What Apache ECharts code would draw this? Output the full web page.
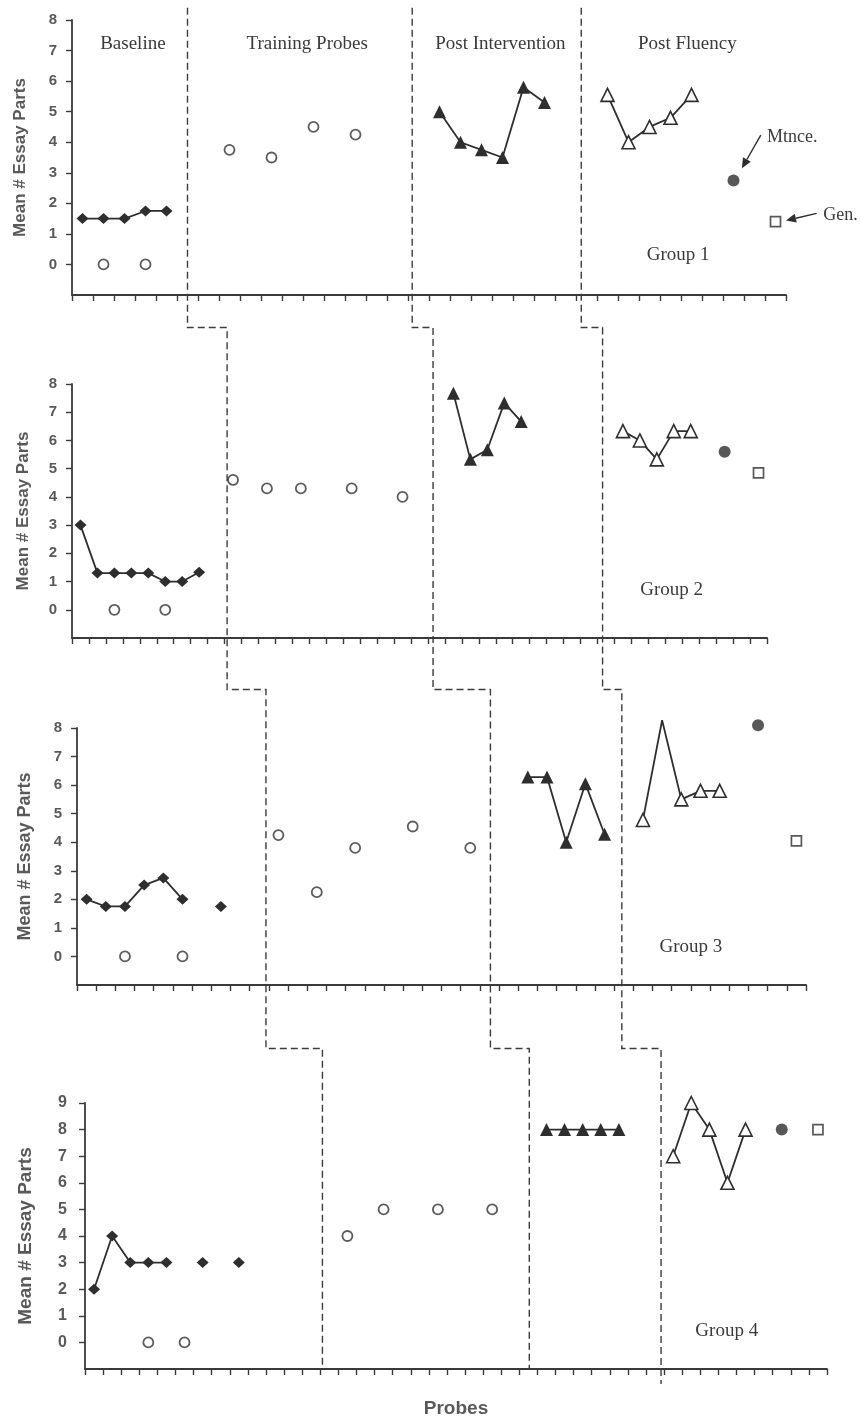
<!DOCTYPE html>
<html><head><meta charset="utf-8">
<script src="https://cdn.jsdelivr.net/npm/echarts@6/dist/echarts.min.js"></script>
<style>html,body{margin:0;padding:0;background:#fff}#c{width:861px;height:1423px}</style>
</head><body><div id="c"></div>
<script>
// ---------------- DATA ----------------
const phaseNames = ['Baseline', 'Training Probes', 'Post Intervention', 'Post Fluency'];
const groupNames = ['Group 1', 'Group 2', 'Group 3', 'Group 4'];
const yTitle = 'Mean # Essay Parts';
const xTitle = 'Probes';
const sessionCounts = [34, 41, 38, 41];
const yMax = [8, 8, 8, 9];

// Group 1
const g1Baseline = [1.5, 1.5, 1.5, 1.75, 1.75];
const g1ProbeIdx = [1, 3, 7, 9, 11, 13];
const g1ProbeVal = [0, 0, 3.75, 3.5, 4.5, 4.25];
const g1InterStart = 17;
const g1Inter = [5.0, 4.0, 3.75, 3.5, 5.8, 5.3];
const g1FluStart = 25;
const g1Flu = [5.55, 4.0, 4.5, 4.8, 5.55];
const g1Mtnce = [31, 2.75];
const g1Gen = [33, 1.4];
const g1Phase = [5.0, 15.7, 23.75];

// Group 2
const g2Baseline = [3, 1.3, 1.3, 1.3, 1.3, 1.0, 1.0, 1.33];
const g2ProbeIdx = [2, 5, 9, 11, 13, 16, 19];
const g2ProbeVal = [0, 0, 4.6, 4.3, 4.3, 4.3, 4.0];
const g2InterStart = 22;
const g2Inter = [7.67, 5.33, 5.67, 7.33, 6.67];
const g2FluStart = 32;
const g2Flu = [6.33, 6.0, 5.33, 6.33, 6.33];
const g2Mtnce = [38, 5.6];
const g2Gen = [40, 4.85];
const g2Phase = [8.65, 20.8, 30.8];

// Group 3
const g3Baseline = [2, 1.75, 1.75, 2.5, 2.75, 2, null, 1.75];
const g3ProbeIdx = [2, 5, 10, 12, 14, 17, 20];
const g3ProbeVal = [0, 0, 4.25, 2.25, 3.8, 4.55, 3.8];
const g3InterStart = 23;
const g3Inter = [6.28, 6.28, 4.0, 6.05, 4.28];
const g3FluStart = 29;
const g3Flu = [4.78, 8.27, 5.5, 5.8, 5.8];
const g3FluNoMarker = [1];
const g3Mtnce = [35, 8.1];
const g3Gen = [37, 4.05];
const g3Phase = [9.35, 21.05, 27.9];

// Group 4
const g4Baseline = [2, 4, 3, 3, 3, null, 3, null, 3];
const g4ProbeIdx = [3, 5, 14, 16, 19, 22];
const g4ProbeVal = [0, 0, 4, 5, 5, 5];
const g4InterStart = 25;
const g4Inter = [8, 8, 8, 8, 8];
const g4FluStart = 32;
const g4Flu = [7, 9, 8, 6, 8];
const g4Mtnce = [38, 8];
const g4Gen = [40, 8];
const g4Phase = [12.62, 24.05, 31.33];

// --------------- BUILD ---------------
const groups = [
  {baseline: g1Baseline, probeIdx: g1ProbeIdx, probeVal: g1ProbeVal, interStart: g1InterStart, inter: g1Inter, fluStart: g1FluStart, flu: g1Flu, fluNoMarker: [], mtnce: g1Mtnce, gen: g1Gen, phase: g1Phase},
  {baseline: g2Baseline, probeIdx: g2ProbeIdx, probeVal: g2ProbeVal, interStart: g2InterStart, inter: g2Inter, fluStart: g2FluStart, flu: g2Flu, fluNoMarker: [], mtnce: g2Mtnce, gen: g2Gen, phase: g2Phase},
  {baseline: g3Baseline, probeIdx: g3ProbeIdx, probeVal: g3ProbeVal, interStart: g3InterStart, inter: g3Inter, fluStart: g3FluStart, flu: g3Flu, fluNoMarker: g3FluNoMarker, mtnce: g3Mtnce, gen: g3Gen, phase: g3Phase},
  {baseline: g4Baseline, probeIdx: g4ProbeIdx, probeVal: g4ProbeVal, interStart: g4InterStart, inter: g4Inter, fluStart: g4FluStart, flu: g4Flu, fluNoMarker: [], mtnce: g4Mtnce, gen: g4Gen, phase: g4Phase}
];

const grids = [
  {left: 72, top: 20, width: 714, height: 275},
  {left: 72, top: 384, width: 695, height: 254},
  {left: 77, top: 728, width: 729, height: 257},
  {left: 85, top: 1103, width: 742, height: 266}
];
const tickFont = [15, 15, 15, 16];
const titleFont = [17, 17, 18, 19];
const titleGap = [43, 40, 43, 50];
const labelMargin = [15, 15, 15, 18];

const AX = '#3a3a3a', INK = '#2e2e2e', GREY = '#595959';
const SANS = '"Liberation Sans", Arial, sans-serif';
const SERIF = '"Liberation Serif", "Times New Roman", serif';

const xAxes = [], yAxes = [], series = [];
groups.forEach((d, g) => {
  const cats = Array.from({length: sessionCounts[g]}, (_, i) => String(i + 1));
  const xa = {
    type: 'category', gridIndex: g, data: cats, boundaryGap: true,
    axisLine: {show: true, onZero: false, lineStyle: {color: AX, width: 1.8}},
    axisTick: {show: true, interval: 0, length: 6, lineStyle: {color: AX, width: 1.4}},
    axisLabel: {show: false}, splitLine: {show: false}
  };
  if (g === 3) {
    xa.name = xTitle; xa.nameLocation = 'middle'; xa.nameGap = 30;
    xa.nameTextStyle = {fontFamily: SANS, fontWeight: 'bold', fontSize: 19, color: GREY};
  }
  xAxes.push(xa);
  const vals = Array.from({length: yMax[g] + 1}, (_, i) => i);
  yAxes.push({
    type: 'value', gridIndex: g, min: -1, max: yMax[g], interval: 1,
    axisLine: {show: true, lineStyle: {color: AX, width: 1.8}},
    axisTick: {show: true, length: 6, customValues: vals, lineStyle: {color: AX, width: 1.4}},
    axisLabel: {customValues: vals, formatter: v => (v < 0 ? '' : String(v)), fontFamily: SANS, fontWeight: 'bold', fontSize: tickFont[g], color: GREY, margin: labelMargin[g]},
    splitLine: {show: false},
    name: yTitle, nameLocation: 'middle', nameRotate: 90, nameGap: titleGap[g],
    nameTextStyle: {fontFamily: SANS, fontWeight: 'bold', fontSize: titleFont[g], color: GREY}
  });
  const common = {xAxisIndex: g, yAxisIndex: g, animation: false, silent: true, clip: false};
  series.push(Object.assign({
    type: 'line', data: d.baseline.map((v, i) => [i, v === null ? '-' : v]),
    symbol: 'diamond', symbolSize: [12, 11], showSymbol: true, showAllSymbol: true, connectNulls: false,
    itemStyle: {color: INK}, lineStyle: {color: INK, width: 1.8}, z: 3
  }, common));
  series.push(Object.assign({
    type: 'scatter', data: d.probeIdx.map((x, i) => [x, d.probeVal[i]]),
    symbol: 'circle', symbolSize: 10,
    itemStyle: {color: '#fff', borderColor: '#333', borderWidth: 1.8}, z: 3
  }, common));
  series.push(Object.assign({
    type: 'line', data: d.inter.map((v, i) => [d.interStart + i, v]),
    symbol: 'triangle', symbolSize: 13, showAllSymbol: true,
    itemStyle: {color: INK}, lineStyle: {color: INK, width: 1.8}, z: 3
  }, common));
  series.push(Object.assign({
    type: 'line', data: d.flu.map((v, i) => d.fluNoMarker.includes(i) ? {value: [d.fluStart + i, v], symbol: 'none'} : [d.fluStart + i, v]),
    symbol: 'triangle', symbolSize: 13, showAllSymbol: true,
    itemStyle: {color: '#fff', borderColor: INK, borderWidth: 1.6}, lineStyle: {color: INK, width: 1.8}, z: 3
  }, common));
  series.push(Object.assign({
    type: 'scatter', data: [d.mtnce], symbol: 'circle', symbolSize: 12,
    itemStyle: {color: INK}, z: 3
  }, common));
  series.push(Object.assign({
    type: 'scatter', data: [d.gen], symbol: 'rect', symbolSize: 10,
    itemStyle: {color: '#fff', borderColor: INK, borderWidth: 1.7}, z: 3
  }, common));
});

const chart = echarts.init(document.getElementById('c'), null, {renderer: 'canvas'});
chart.setOption({
  animation: false,
  backgroundColor: '#fff',
  grid: grids.map(r => Object.assign({containLabel: false}, r)),
  xAxis: xAxes, yAxis: yAxes, series: series
});

// ---- annotations placed through the axes' own scales ----
function px(g, x, y) {
  const p0 = chart.convertToPixel({xAxisIndex: g}, 0);
  const p1 = chart.convertToPixel({xAxisIndex: g}, 1);
  return [p0 + (p1 - p0) * x, chart.convertToPixel({yAxisIndex: g}, y)];
}
const phaseTop = 8.4;                 // panel 1 value where phase lines begin
const stepVals = [10, 9.35, 11.05];   // level (in lower panel units) of the steps between panels
const phaseLabelPos = [[2.4, 7.2], [10.7, 7.2], [19.9, 7.2], [28.8, 7.2]];
const groupLabelPos = [[28.36, 0.3], [34.87, 0.71], [31.5, 0.34], [34.96, 0.41]];
const mtnceLabel = [33.8, 4.16], genLabel = [36.1, 1.6];
const mtnceArrow = [[32.3, 4.23], [31.4, 3.15]];
const genArrow = [[34.96, 1.67], [33.5, 1.44]];

const gfx = [];
for (let k = 0; k < 3; k++) {
  const pts = [px(0, groups[0].phase[k], phaseTop)];
  for (let g = 1; g < 4; g++) {
    const sy = px(g, 0, stepVals[g - 1])[1];
    pts.push([px(g - 1, groups[g - 1].phase[k], 0)[0], sy]);
    pts.push([px(g, groups[g].phase[k], 0)[0], sy]);
  }
  const bottom = px(3, 0, -1)[1] + (k === 2 ? 15 : 0);
  pts.push([px(3, groups[3].phase[k], 0)[0], bottom]);
  gfx.push({type: 'polyline', silent: true, z: 1, shape: {points: pts},
    style: {stroke: '#3c3c3c', lineWidth: 1.4, lineDash: [7, 4], fill: null}});
}
phaseNames.forEach((t, i) => {
  const p = px(0, phaseLabelPos[i][0], phaseLabelPos[i][1]);
  gfx.push({type: 'text', x: p[0], y: p[1], silent: true,
    style: {text: t, fontFamily: SERIF, fontSize: 19, fill: '#3a3a3a', align: 'center', verticalAlign: 'middle'}});
});
groupNames.forEach((t, g) => {
  const p = px(g, groupLabelPos[g][0], groupLabelPos[g][1]);
  gfx.push({type: 'text', x: p[0], y: p[1], silent: true,
    style: {text: t, fontFamily: SERIF, fontSize: 19, fill: '#3a3a3a', align: 'center', verticalAlign: 'middle'}});
});
[[mtnceLabel, 'Mtnce.'], [genLabel, 'Gen.']].forEach(([pos, t]) => {
  const p = px(0, pos[0], pos[1]);
  gfx.push({type: 'text', x: p[0], y: p[1], silent: true,
    style: {text: t, fontFamily: SERIF, fontSize: 18, fill: '#3a3a3a', align: 'center', verticalAlign: 'middle'}});
});
[mtnceArrow, genArrow].forEach(a => {
  const s = px(0, a[0][0], a[0][1]), e = px(0, a[1][0], a[1][1]);
  const dx = e[0] - s[0], dy = e[1] - s[1], L = Math.hypot(dx, dy);
  const ux = dx / L, uy = dy / L, hl = 10, hw = 4.5;
  const bx = e[0] - ux * hl, by = e[1] - uy * hl;
  gfx.push({type: 'line', silent: true, shape: {x1: s[0], y1: s[1], x2: bx, y2: by},
    style: {stroke: INK, lineWidth: 1.4}});
  gfx.push({type: 'polygon', silent: true,
    shape: {points: [[e[0], e[1]], [bx - uy * hw, by + ux * hw], [bx + uy * hw, by - ux * hw]]},
    style: {fill: INK}});
});
chart.setOption({graphic: gfx});
</script>
</body></html>
